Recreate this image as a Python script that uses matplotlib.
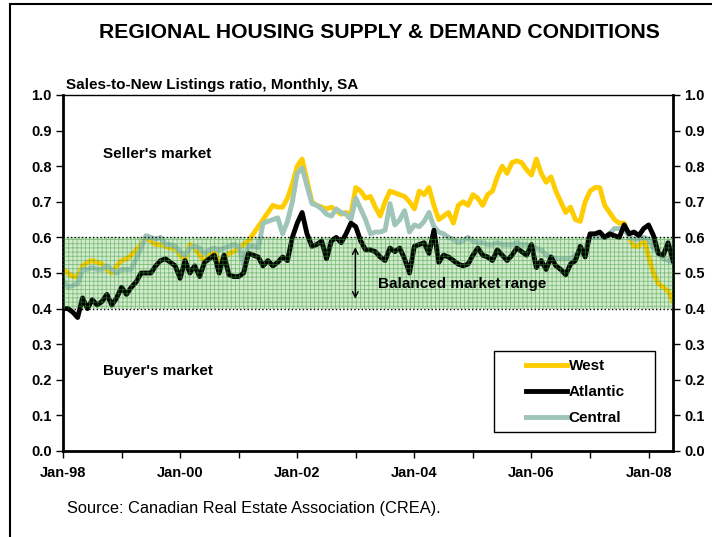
import numpy as np
import matplotlib.pyplot as plt
from matplotlib.patches import Rectangle

plt.rcParams['font.family'] = ['Liberation Sans', 'DejaVu Sans']
plt.rcParams['hatch.linewidth'] = 0.6

# monthly sales-to-new-listings ratio, Jan-98 onwards
west = [0.51, 0.50, 0.49, 0.49, 0.52, 0.53, 0.535, 0.53, 0.525, 0.51, 0.50, 0.52,
        0.535, 0.54, 0.55, 0.565, 0.58, 0.60, 0.59, 0.58, 0.58, 0.575, 0.57, 0.57,
        0.55, 0.535, 0.58, 0.57, 0.55, 0.53, 0.55, 0.56, 0.53, 0.54, 0.555, 0.56,
        0.57, 0.58, 0.59, 0.61, 0.63, 0.65, 0.67, 0.69, 0.685, 0.685, 0.71, 0.75,
        0.80, 0.82, 0.76, 0.70, 0.69, 0.685, 0.68, 0.685, 0.675, 0.665, 0.67, 0.665,
        0.74, 0.73, 0.71, 0.715, 0.685, 0.66, 0.70, 0.73, 0.725, 0.72, 0.715, 0.70,
        0.68, 0.73, 0.72, 0.74, 0.69, 0.65, 0.66, 0.67, 0.64, 0.69, 0.70, 0.69,
        0.72, 0.71, 0.69, 0.72, 0.73, 0.77, 0.80, 0.78, 0.81, 0.815, 0.81, 0.79,
        0.775, 0.82, 0.78, 0.755, 0.77, 0.73, 0.70, 0.67, 0.685, 0.65, 0.645, 0.70,
        0.73, 0.74, 0.74, 0.69, 0.67, 0.65, 0.64, 0.64, 0.60, 0.575, 0.575, 0.60,
        0.545, 0.50, 0.47, 0.46, 0.45, 0.42]
atlantic = [0.40, 0.40, 0.39, 0.375, 0.43, 0.40, 0.425, 0.41, 0.42, 0.44, 0.41, 0.43,
            0.46, 0.44, 0.46, 0.475, 0.50, 0.50, 0.50, 0.52, 0.535, 0.54, 0.53, 0.52,
            0.485, 0.535, 0.50, 0.52, 0.49, 0.53, 0.54, 0.55, 0.50, 0.55, 0.495, 0.49,
            0.49, 0.50, 0.555, 0.55, 0.545, 0.52, 0.535, 0.52, 0.53, 0.545, 0.535, 0.60,
            0.64, 0.67, 0.61, 0.575, 0.58, 0.59, 0.54, 0.59, 0.60, 0.585, 0.61, 0.64,
            0.63, 0.59, 0.565, 0.565, 0.56, 0.545, 0.535, 0.57, 0.56, 0.57, 0.54, 0.50,
            0.575, 0.58, 0.585, 0.555, 0.62, 0.53, 0.55, 0.545, 0.535, 0.525, 0.52, 0.525,
            0.55, 0.57, 0.55, 0.545, 0.535, 0.565, 0.55, 0.535, 0.55, 0.57, 0.56, 0.55,
            0.58, 0.515, 0.535, 0.51, 0.545, 0.52, 0.51, 0.495, 0.525, 0.535, 0.575, 0.545,
            0.61, 0.61, 0.615, 0.60, 0.61, 0.605, 0.60, 0.635, 0.61, 0.615, 0.605, 0.625,
            0.635, 0.605, 0.555, 0.55, 0.585, 0.535]
central = [0.48, 0.46, 0.465, 0.47, 0.51, 0.51, 0.515, 0.51, 0.51, 0.52, 0.51, 0.50,
           0.51, 0.51, 0.51, 0.54, 0.57, 0.605, 0.60, 0.595, 0.60, 0.58, 0.58, 0.575,
           0.56, 0.55, 0.57, 0.575, 0.57, 0.555, 0.565, 0.57, 0.565, 0.57, 0.575, 0.58,
           0.575, 0.525, 0.575, 0.575, 0.57, 0.64, 0.645, 0.65, 0.655, 0.61, 0.645, 0.70,
           0.78, 0.795, 0.745, 0.695, 0.69, 0.68, 0.665, 0.66, 0.68, 0.67, 0.665, 0.65,
           0.71, 0.68, 0.65, 0.61, 0.615, 0.615, 0.62, 0.695, 0.635, 0.65, 0.675, 0.615,
           0.635, 0.63, 0.645, 0.67, 0.63, 0.615, 0.61, 0.60, 0.595, 0.585, 0.59, 0.60,
           0.59, 0.585, 0.585, 0.58, 0.58, 0.585, 0.58, 0.58, 0.58, 0.585, 0.58, 0.58,
           0.575, 0.57, 0.565, 0.55, 0.545, 0.54, 0.54, 0.54, 0.54, 0.55, 0.555, 0.57,
           0.60, 0.60, 0.60, 0.60, 0.61, 0.625, 0.625, 0.625, 0.60, 0.595, 0.595, 0.60,
           0.595, 0.57, 0.555, 0.54, 0.535, 0.53]

tick_labels = ['Jan-98', '', 'Jan-00', '', 'Jan-02', '', 'Jan-04', '', 'Jan-06', '', 'Jan-08']
balanced = (0.4, 0.6)

fig = plt.figure(figsize=(7.12, 5.37), dpi=100)
ax = fig.add_axes([63/712, 1-451/537, 610/712, 356/537])

# outer frame (only left/top edges fall inside the picture)
fig.patches.append(Rectangle((10/712, -0.1), 1.2, 1.1 - 4/537, transform=fig.transFigure,
                             fill=False, edgecolor='black', linewidth=1.5))

# balanced market band
ax.axhspan(balanced[0], balanced[1], facecolor='#d2ebcd', edgecolor='none', zorder=0)
ax.axhspan(balanced[0], balanced[1], facecolor='none', edgecolor='#3a9a3a88',
           hatch='++++', linewidth=0, zorder=4)
ax.axhline(balanced[0], color='black', linestyle=':', linewidth=1, zorder=5)
ax.axhline(balanced[1], color='black', linestyle=':', linewidth=1, zorder=5)

ax.plot(np.arange(len(west)), west, color='#ffcc00', linewidth=3.5, label='West', zorder=2)
ax.plot(np.arange(len(atlantic)), atlantic, color='black', linewidth=3.5, label='Atlantic', zorder=2.2)
ax.plot(np.arange(len(central)), central, color='#9fc4b8', linewidth=3.5, label='Central', zorder=2.1)

ax.set_xlim(0, 125)
ax.set_ylim(0, 1.0)
ax.set_xticks(range(0, 121, 12))
ax.set_xticklabels(tick_labels, fontsize=10.5, fontweight='bold')
ax.set_yticks(np.arange(0, 1.01, 0.1))
ax.set_yticklabels(['%.1f' % v for v in np.arange(0, 1.01, 0.1)], fontsize=10.5, fontweight='bold')
ax.tick_params(axis='y', right=True, labelright=True, direction='out', length=5, width=1, pad=3)
ax.tick_params(axis='x', direction='out', length=5, width=1, pad=6)
for s in ['left', 'right', 'bottom']:
    ax.spines[s].set_linewidth(2)
ax.spines['top'].set_linewidth(1)

ax.text(8.2, 0.835, "Seller's market", fontsize=11, fontweight='bold', va='center')
ax.text(8.2, 0.225, "Buyer's market", fontsize=11, fontweight='bold', va='center')
ax.text(64.6, 0.47, 'Balanced market range', fontsize=11, fontweight='bold', va='center', zorder=6)
ax.annotate('', xy=(59.9, 0.42), xytext=(59.9, 0.58),
            arrowprops=dict(arrowstyle='<->', color='black', lw=1), zorder=6)

# legend box drawn separately so padding matches the original
ax.add_patch(Rectangle((0.707, 0.053), 0.263, 0.228, transform=ax.transAxes,
                       facecolor='white', edgecolor='black', linewidth=1, zorder=7))
leg = ax.legend(loc='center left', bbox_to_anchor=(0.759, 0.165), frameon=False,
                prop={'weight': 'bold', 'size': 11}, handlelength=2.7, handletextpad=0.1,
                borderpad=0, borderaxespad=0, labelspacing=0.8)
leg.set_zorder(8)

fig.text(99/712, 1-33/537, 'REGIONAL HOUSING SUPPLY & DEMAND CONDITIONS', fontsize=15.2,
         fontweight='bold', va='center')
fig.text(66/712, 1-85/537, 'Sales-to-New Listings ratio, Monthly, SA', fontsize=11,
         fontweight='bold', va='center')
fig.text(67/712, 1-508/537, 'Source: Canadian Real Estate Association (CREA).', fontsize=11.8,
         va='center')

plt.savefig('out.png', dpi=100)
